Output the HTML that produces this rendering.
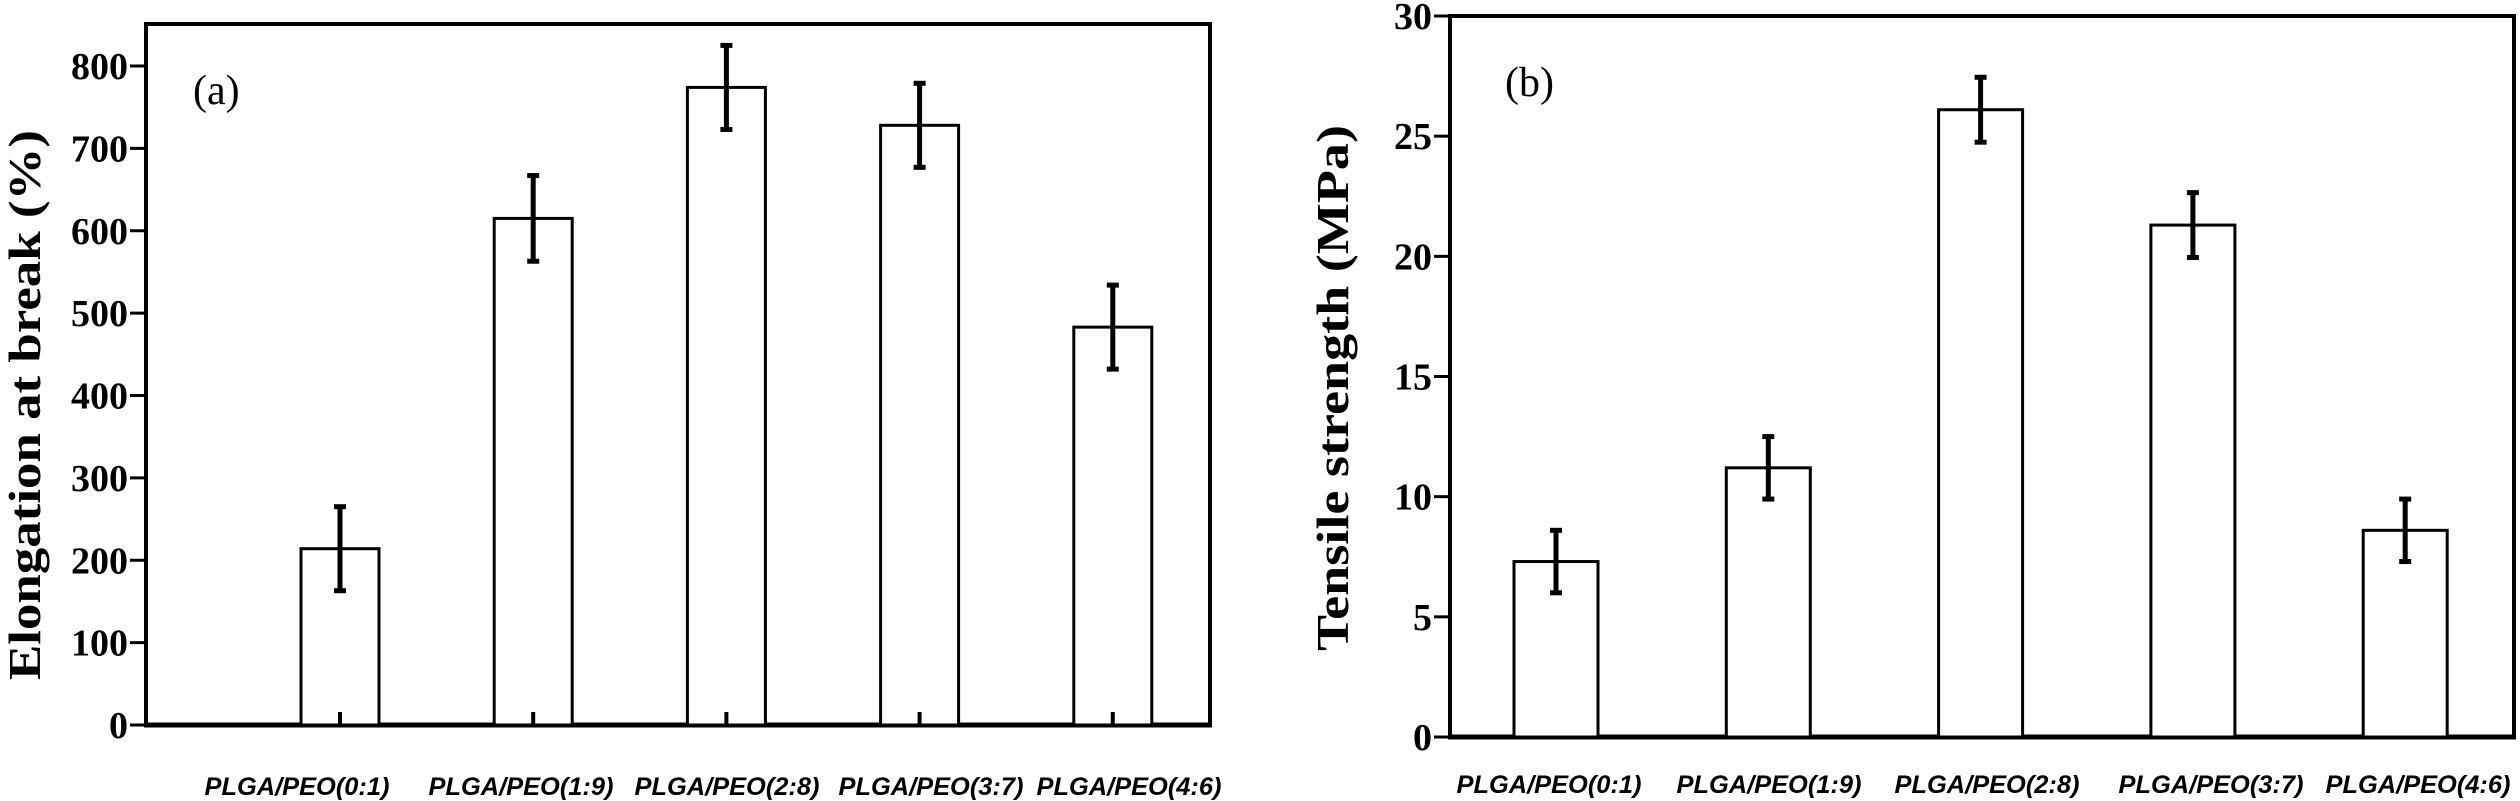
<!DOCTYPE html>
<html><head><meta charset="utf-8">
<style>html,body{margin:0;padding:0;background:#fff;}svg{display:block;}</style>
</head><body>
<svg id="chart" width="2520" height="801" viewBox="0 0 2520 801" xmlns="http://www.w3.org/2000/svg"></svg>
<script>
const categories = ["PLGA/PEO(0:1)","PLGA/PEO(1:9)","PLGA/PEO(2:8)","PLGA/PEO(3:7)","PLGA/PEO(4:6)"];
const elongValues = [214, 615, 774, 728, 483];
const elongErrors = [51, 52, 51, 51, 51];
const elongTicks = [0,100,200,300,400,500,600,700,800];
const tensileValues = [7.3, 11.2, 26.1, 21.3, 8.6];
const tensileErrors = [1.3, 1.3, 1.35, 1.35, 1.3];
const tensileTicks = [0,5,10,15,20,25,30];

const NS = "http://www.w3.org/2000/svg";
const svg = document.getElementById("chart");
function mk(tag, attrs, parent){
  const e = document.createElementNS(NS, tag);
  for (const k in attrs) e.setAttribute(k, attrs[k]);
  (parent||svg).appendChild(e);
  return e;
}

function panel(cfg){
  const g = mk("g", {});
  
  
  const y = v => cfg.bottom - (v - 0) * (cfg.bottom - cfg.yTopPx) / cfg.yTopVal;
  const x = i => cfg.x0 + i * cfg.step;
  const fr = mk("rect", {x:cfg.left, y:cfg.top, width:cfg.right-cfg.left, height:cfg.bottom-cfg.top, fill:"none", stroke:"#000", "stroke-width":4}, g);
  
  
  const ax = mk("line", {x1:cfg.left-2, x2:cfg.right+2, y1:cfg.bottom, y2:cfg.bottom, stroke:"#000", "stroke-width":5}, g);
  
  
  cfg.ticks.forEach(t => {
    const ty = y(t);
    const tl = mk("line", {x1:cfg.left-16, x2:cfg.left, y1:ty, y2:ty, stroke:"#000", "stroke-width":3}, g);
    
    
    const tx = mk("text", {x:cfg.left-18, y:ty+13, "text-anchor":"end", "font-family":"Liberation Serif, serif", "font-weight":"bold", "font-size":38}, g);
    tx.textContent = t;
    
    
  });
  cfg.values.forEach((v, i) => {
    const cx = x(i);
    const b = mk("rect", {x:cx-cfg.barW/2, y:y(v), width:cfg.barW, height:cfg.bottom-y(v), fill:"#fff", stroke:"#000", "stroke-width":3}, g);
    
    
    const e = cfg.errors[i];
    const eg = mk("g", {stroke:"#000", "stroke-width":5}, g);
    
    
    mk("line", {x1:cx, x2:cx, y1:y(v+e), y2:y(v-e)}, eg);
    mk("line", {x1:cx-6, x2:cx+6, y1:y(v+e), y2:y(v+e)}, eg);
    mk("line", {x1:cx-6, x2:cx+6, y1:y(v-e), y2:y(v-e)}, eg);
    if (cfg.xTicks){
      const xt = mk("line", {x1:cx, x2:cx, y1:cfg.bottom-13, y2:cfg.bottom, stroke:"#000", "stroke-width":4}, g);
      
      
    }
    const lb = mk("text", {x:cfg.labelX[i], y:cfg.labelY, "text-anchor":"middle", "font-family":"Liberation Sans, sans-serif", "font-weight":"bold", "font-style":"italic", "font-size":25, textLength:cfg.labelW, lengthAdjust:"spacingAndGlyphs"}, g);
    lb.textContent = categories[i];
    
    
  });
  if (cfg.xTicks){
    mk("line", {x1:cfg.left, x2:cfg.left, y1:cfg.bottom-13, y2:cfg.bottom, stroke:"#000", "stroke-width":4}, g);
  }
  const tt = mk("text", {transform:`translate(${cfg.titleX},${cfg.titleCY}) rotate(-90)`, "text-anchor":"middle", "font-family":"Liberation Serif, serif", "font-weight":"bold", "font-size":46, textLength:cfg.titleLen, lengthAdjust:"spacingAndGlyphs"}, g);
  tt.textContent = cfg.title;
  
  
  const pl = mk("text", {x:cfg.tagX, y:cfg.tagY, "font-family":"Liberation Serif, serif", "font-size":42}, g);
  pl.textContent = cfg.tag;
  
  
}

panel({name:"elongation-chart", left:146, right:1210, top:24, bottom:725, yTopPx:66, yTopVal:800,
  ticks:elongTicks, values:elongValues, errors:elongErrors, x0:340, step:193.2, barW:78, xTicks:true,
  labelX:[297,521,727,931,1129], labelY:795, labelW:185,
  title:"Elongation at break (%)", titleX:40, titleCY:405, titleLen:550, tag:"(a)", tagX:193, tagY:104});

panel({name:"tensile-chart", left:1450, right:2514, top:16, bottom:737, yTopPx:16, yTopVal:30,
  ticks:tensileTicks, values:tensileValues, errors:tensileErrors, x0:1556, step:212.3, barW:84, xTicks:false,
  labelX:[1549,1769,1987,2211,2418], labelY:793, labelW:185,
  title:"Tensile strength (MPa)", titleX:1348, titleCY:388, titleLen:526, tag:"(b)", tagX:1505, tagY:96});
</script>
</body></html>
